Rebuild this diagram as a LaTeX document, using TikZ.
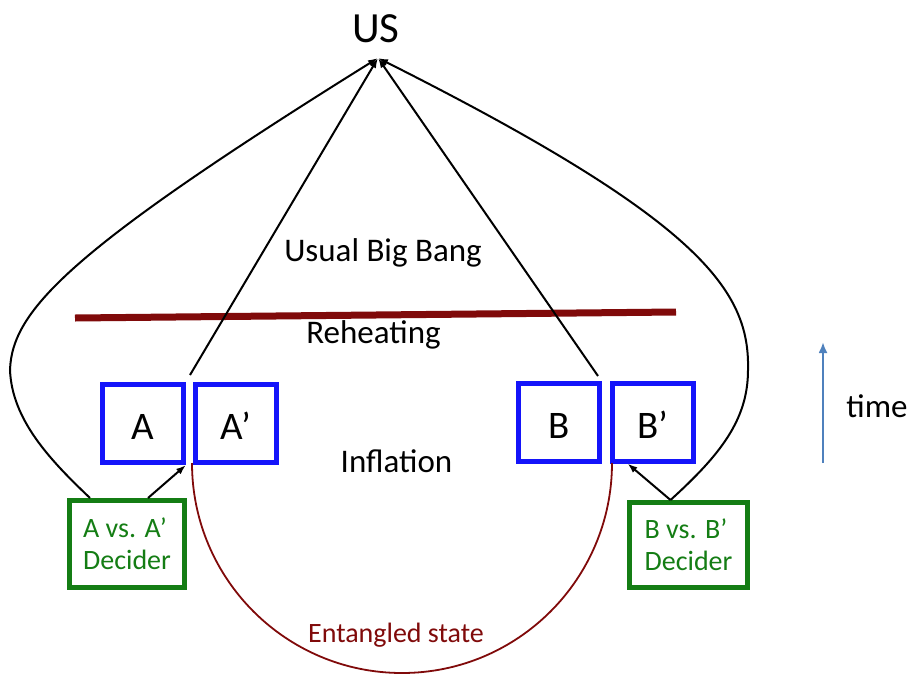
\documentclass[tikz,border=0pt]{standalone}
\usepackage{fontspec}
\setmainfont{Carlito}
\usepackage{xcolor}
\usepackage{tikz}
\usetikzlibrary{arrows.meta}
\definecolor{boxblue}{RGB}{20,20,250}
\definecolor{decgreen}{RGB}{20,125,20}
\definecolor{heatred}{RGB}{128,10,10}
\definecolor{timeblue}{RGB}{79,129,189}
\tikzset{
  regbox/.style={draw=boxblue, line width=5pt, minimum width=81pt, minimum height=78pt,
    inner sep=0pt, text height=32pt, text depth=0pt, font=\fontsize{39}{44}\selectfont},
  decbox/.style={draw=decgreen, line width=5pt, minimum width=115pt, minimum height=87pt,
    align=left, text=decgreen, font=\fontsize{28}{32}\selectfont},
  lbl/.style={anchor=base, font=\fontsize{33}{38}\selectfont},
  world/.style={line width=2pt, -{Latex[length=10pt,width=7pt]}}
}

\begin{document}
\begin{tikzpicture}[x=1pt, y=-1pt]
  \useasboundingbox (0,0) rectangle (907,675);
  \coordinate (apex) at (378,58);
  \coordinate (gapA) at (190,375);
  \coordinate (gapB) at (598,376);
  \coordinate (rh0) at (75,318);
  \coordinate (rh1) at (676,312);
  \coordinate (arcL) at (192,463);
  \coordinate (t0) at (823,463);
  \coordinate (t1) at (823,342);

  \node[regbox] (a) at (143,423.5) {A};
  \node[regbox] (ap) at (235.5,423.5) {A’};
  \node[regbox] (b) at (559,422) {B};
  \node[regbox] (bp) at (652.5,422) {B’};
  \node[decbox] (decA) at (127,544) {A vs. A’\\Decider};
  \node[decbox, minimum width=118pt, minimum height=85pt] (decB) at (688.5,545) {B vs. B’\\Decider};

  \node[lbl, font=\fontsize{43}{48}\selectfont] (us) at (376,42) {US};
  \node[lbl] (bigbang) at (383,261) {Usual Big Bang};
  \node[lbl] (reheat) at (373.5,343) {Reheating};
  \node[lbl] (inflation) at (396.5,472) {Inflation};
  \node[lbl, text=heatred, font=\fontsize{28}{32}\selectfont] (entangled) at (396,642) {Entangled state};
  \node[lbl] (timelbl) at (877,417) {time};

  \draw[heatred, line width=7pt] (rh0) -- (rh1);
  \draw[heatred, line width=1.8pt] (arcL) arc[start angle=180, end angle=0, radius=210];

  \draw[world] ([xshift=-37pt]decA.north) .. controls (50,460) and (12,420) .. (10,370)
    .. controls (12,310) and (70,250) .. (apex);
  \draw[world] ([xshift=-18pt]decB.north) .. controls (720,455) and (748,420) .. (748,370)
    .. controls (750,290) and (700,220) .. (apex);
  \draw[world] (gapA) -- (apex);
  \draw[world] (gapB) -- (apex);
  \draw[world] ([xshift=21pt]decA.north) -- (a.south east);
  \draw[world] ([xshift=-18pt]decB.north) -- ([xshift=18pt]bp.south west);

  \draw[timeblue, line width=2.2pt, -{Latex[length=11pt,width=9pt]}] (t0) -- (t1);
\end{tikzpicture}
\end{document}
